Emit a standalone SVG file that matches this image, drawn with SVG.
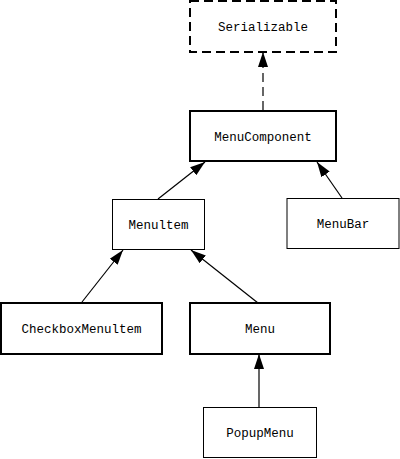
<svg xmlns="http://www.w3.org/2000/svg" width="400" height="459" viewBox="0 0 400 459">
<style>
.box{fill:#fff;stroke:#000}
.thick{stroke-width:2}
.thin{stroke-width:1}
.dash{stroke-dasharray:9,5}
.lbl{font-family:"Liberation Mono","DejaVu Sans Mono",monospace;font-size:12.5px;fill:#000;text-anchor:middle}
.edge{stroke:#000;stroke-width:1.2;fill:none}
</style>
<defs>
<marker id="ah" markerUnits="userSpaceOnUse" markerWidth="16" markerHeight="12" refX="15" refY="5" orient="auto" viewBox="0 0 16 10">
<path d="M0,0 L15,5 L0,10 Z" fill="#000"/>
</marker>
</defs>
<g id="connectors">
<line class="edge dash" x1="263" y1="110" x2="263" y2="52" marker-end="url(#ah)"/>
<line class="edge" x1="158" y1="199" x2="205" y2="162" marker-end="url(#ah)"/>
<line class="edge" x1="342" y1="198" x2="317" y2="162" marker-end="url(#ah)"/>
<line class="edge" x1="82" y1="302" x2="123" y2="250" marker-end="url(#ah)"/>
<line class="edge" x1="258" y1="303" x2="191" y2="250" marker-end="url(#ah)"/>
<line class="edge" x1="259" y1="407" x2="259" y2="354" marker-end="url(#ah)"/>
</g>
<g id="serializable">
<rect class="box thick dash" x="190" y="1" width="146" height="51"/>
<text class="lbl" x="263" y="31">Serializable</text>
</g>
<g id="menucomponent">
<rect class="box thick" x="190" y="111" width="146" height="50"/>
<text class="lbl" x="263" y="141">MenuComponent</text>
</g>
<g id="menuitem">
<rect class="box thin" x="112.5" y="199.5" width="92" height="50"/>
<text class="lbl" x="158.5" y="229">Menultem</text>
</g>
<g id="menubar">
<rect class="box thin" x="287" y="198.5" width="112" height="50"/>
<text class="lbl" x="343" y="228">MenuBar</text>
</g>
<g id="checkboxmenuitem">
<rect class="box thick" x="1" y="303" width="161" height="51"/>
<text class="lbl" x="81.5" y="333">CheckboxMenultem</text>
</g>
<g id="menu">
<rect class="box thick" x="190" y="303" width="140" height="51"/>
<text class="lbl" x="260" y="333">Menu</text>
</g>
<g id="popupmenu">
<rect class="box thin" x="203.5" y="407.5" width="113" height="50"/>
<text class="lbl" x="260" y="437">PopupMenu</text>
</g>
</svg>
